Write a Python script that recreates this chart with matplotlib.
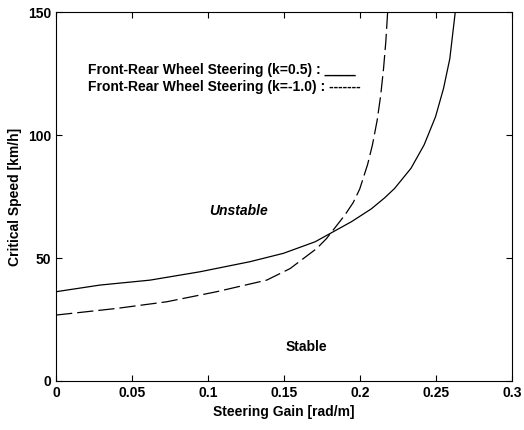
import matplotlib
matplotlib.use("Agg")
import matplotlib.pyplot as plt

# k = 0.5 (solid)
gain_a = [0.0, 0.029, 0.0618, 0.0947, 0.1276, 0.1496, 0.1705, 0.1825, 0.1945, 0.2075,
          0.2163, 0.2228, 0.2336, 0.2422, 0.2497, 0.2550, 0.2591, 0.2627]
speed_a = [36.3, 39, 41, 44.4, 48.5, 51.9, 56.6, 60.7, 64.8, 70.0,
           74.5, 78.3, 86.5, 96, 107.4, 119, 131, 150]

# k = -1.0 (dashed)
gain_b = [0.0, 0.0399, 0.0728, 0.1057, 0.1386, 0.154, 0.1716, 0.1781, 0.1901, 0.1955,
          0.1998, 0.2050, 0.2082, 0.2113, 0.2136, 0.2155, 0.2170, 0.2182]
speed_b = [26.8, 29.5, 32.2, 36.3, 41, 45.7, 53.9, 58, 67.5, 72.5,
           78, 88, 96, 106, 116, 127, 138, 150]

plt.rcParams['font.family'] = ['Liberation Sans', 'DejaVu Sans']
plt.rcParams['font.weight'] = 'bold'

fig = plt.figure(figsize=(5.24, 4.30), dpi=100)
ax = fig.add_axes([0.107, 0.114, 0.87, 0.858])

ax.plot(gain_a, speed_a, color="black", lw=0.9)
ax.plot(gain_b, speed_b, color="black", lw=0.9, linestyle=(0, (13, 4)))

ax.set_xlim(0, 0.3)
ax.set_ylim(0, 150)
ax.set_xticks([0, 0.05, 0.1, 0.15, 0.2, 0.25, 0.3])
ax.set_xticklabels(["0", "0.05", "0.1", "0.15", "0.2", "0.25", "0.3"])
ax.set_yticks([0, 50, 100, 150])
ax.tick_params(direction="in", top=True, right=True, labelsize=10, length=4)
for lab in ax.get_xticklabels() + ax.get_yticklabels():
    lab.set_fontweight("bold")

ax.set_xlabel("Steering Gain [rad/m]", fontsize=10, fontweight="bold")
ax.set_ylabel("Critical Speed [km/h]", fontsize=10, fontweight="bold")

ax.text(0.021, 126.5, "Front-Rear Wheel Steering (k=0.5) : ____", fontsize=10, fontweight="bold", va="center")
ax.text(0.021, 119.5, "Front-Rear Wheel Steering (k=-1.0) : -------", fontsize=10, fontweight="bold", va="center")
ax.text(0.12, 69, "Unstable", fontsize=10, fontweight="bold", style="italic", ha="center", va="center")
ax.text(0.165, 14, "Stable", fontsize=10, fontweight="bold", ha="center", va="center")

plt.savefig("out.png")
